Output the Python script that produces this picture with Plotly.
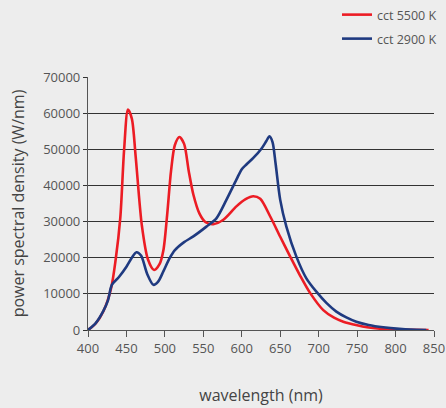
import plotly.graph_objects as go

# wavelength (nm) and power spectral density (W/nm)
wl_5500 = [400, 410, 420, 430, 436, 442, 447, 452, 457, 462, 470, 478, 486, 493, 498, 503, 508, 513, 519, 525, 531, 537, 545, 553, 563, 576, 593, 605, 615, 624, 637, 650, 663, 676, 689, 706, 720, 732, 750, 763, 780, 802, 820, 843]
psd_5500 = [0, 1800, 5200, 11500, 19500, 31000, 50000, 61000, 58500, 48000, 29000, 19500, 16600, 18200, 22000, 32000, 44000, 51200, 53400, 51500, 44000, 37500, 32200, 29800, 29300, 30500, 34200, 36200, 37000, 36300, 31400, 25800, 20300, 15000, 10200, 5500, 3400, 2300, 1300, 750, 350, 100, 30, 0]

wl_2900 = [400, 410, 420, 426, 431, 440, 450, 457, 463, 469, 477, 485, 491, 498, 506, 513, 525, 537, 554, 567, 580, 593, 600, 606, 615, 626, 632, 636, 640, 644, 650, 658, 671, 684, 697, 710, 723, 736, 749, 765, 784, 805, 820, 840]
psd_2900 = [0, 1900, 5300, 8200, 12500, 14600, 17500, 20000, 21500, 20600, 15500, 12500, 13300, 16200, 19800, 22100, 24300, 25900, 28600, 30900, 36000, 41600, 44500, 45800, 47600, 50300, 52300, 53600, 52000, 46000, 36000, 28600, 20300, 14300, 10600, 7500, 5100, 3500, 2300, 1400, 750, 300, 100, 0]

series_names = ["cct 5500 K", "cct 2900 K"]
x_ticks = [400, 450, 500, 550, 600, 650, 700, 750, 800, 850]
y_ticks = [0, 10000, 20000, 30000, 40000, 50000, 60000, 70000]

fig = go.Figure()
fig.add_trace(go.Scatter(x=wl_5500, y=psd_5500, name=series_names[0], mode="lines", legend="legend",
                         line=dict(color="#ec1c24", width=2.6, shape="spline", smoothing=0.8)))
fig.add_trace(go.Scatter(x=wl_2900, y=psd_2900, name=series_names[1], mode="lines", legend="legend2",
                         line=dict(color="#1f3a80", width=2.6, shape="spline", smoothing=0.8)))

leg_common = dict(xref="container", yref="container", xanchor="left", yanchor="middle",
                  bgcolor="rgba(0,0,0,0)", font=dict(size=12.5, color="#555555"), itemwidth=30)

fig.update_layout(
    width=446, height=408,
    paper_bgcolor="#ededed", plot_bgcolor="#ededed",
    margin=dict(l=88, r=12, t=77, b=78, autoexpand=False),
    font=dict(family="Open Sans, Noto Sans, sans-serif", color="#555555", size=12),
    showlegend=True,
    legend=dict(x=337 / 446, y=1 - 15 / 408, **leg_common),
    legend2=dict(x=337 / 446, y=1 - 39 / 408, **leg_common),
    xaxis=dict(range=[400, 850], tickvals=x_ticks, showgrid=False, zeroline=False, automargin=False,
               showline=True, linecolor="#555555", linewidth=1.2,
               ticks="outside", ticklen=6, tickcolor="#555555", tickwidth=1.2,
               tickfont=dict(size=13),
               title=dict(text="wavelength (nm)", font=dict(size=16, color="#444444"), standoff=34)),
    yaxis=dict(range=[0, 70000], tickvals=y_ticks, tickformat="d", showgrid=True, gridcolor="#333333", gridwidth=1,
               zeroline=False, showline=True, linecolor="#555555", linewidth=1.2, automargin=False,
               ticks="outside", ticklen=4, tickcolor="#333333",
               tickfont=dict(size=13),
               title=dict(text="power spectral density (W/nm)", font=dict(size=16, color="#444444"), standoff=14)),
)

fig.write_html("out.html", config={"displayModeBar": False},
               post_script="document.body.style.margin='0';document.body.style.background='#ededed';")
